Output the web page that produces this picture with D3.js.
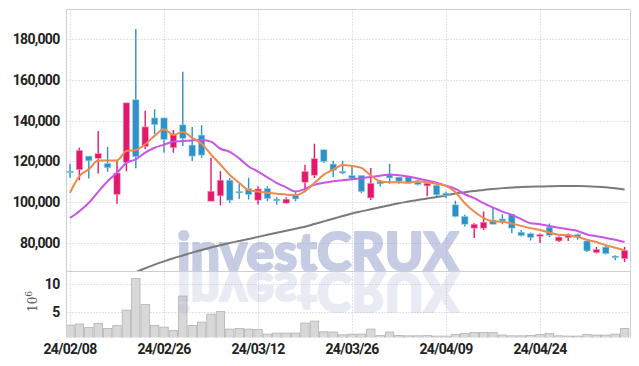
<!DOCTYPE html>
<html><head><meta charset="utf-8">
<script src="https://cdn.jsdelivr.net/npm/d3@7"></script>
<style>html,body{margin:0;padding:0;background:#fff;} svg{display:block;}</style>
</head><body>
<svg id="chart" width="639" height="366"></svg>
<script>
// ---------- DATA ----------
const dates = ["24/02/08","24/02/13","24/02/14","24/02/15","24/02/16","24/02/19","24/02/20","24/02/21","24/02/22","24/02/23",
"24/02/26","24/02/27","24/02/28","24/02/29","24/03/04","24/03/05","24/03/06","24/03/07","24/03/08","24/03/11",
"24/03/12","24/03/13","24/03/14","24/03/15","24/03/18","24/03/19","24/03/20","24/03/21","24/03/22","24/03/25",
"24/03/26","24/03/27","24/03/28","24/03/29","24/04/01","24/04/02","24/04/03","24/04/04","24/04/05","24/04/08",
"24/04/09","24/04/11","24/04/12","24/04/15","24/04/16","24/04/17","24/04/18","24/04/19","24/04/22","24/04/23",
"24/04/24","24/04/25","24/04/26","24/04/29","24/04/30","24/05/02","24/05/03","24/05/07","24/05/08","24/05/09"];
const opens  = [115200,115900,122600,121500,119000,103800,119500,150200,127200,141300,
141300,126700,137900,128000,132900,100500,103100,110800,105300,106700,
101000,106700,101500,99500,103300,109800,113200,125700,118700,115100,
113100,113100,102100,110300,113400,112300,112600,109800,108000,108300,
104400,98700,93000,87300,87300,91300,91800,94100,85300,84600,
83300,87800,81000,82600,84100,81000,75300,78000,73600,72300];
const highs  = [118900,126700,122600,134900,127000,120500,148700,184900,144800,145600,
141300,135400,163900,136900,137700,121800,115200,112000,109200,112000,
107800,107800,102400,102400,104900,118400,128600,125700,120300,120300,
117200,113100,116800,110900,118800,112300,112900,110900,109300,108700,
105200,100700,93800,89700,95400,97100,94100,94100,86400,85100,
84600,89500,83300,84600,84600,81300,78000,78900,74000,78000];
const lows   = [112000,110700,111600,114100,114900,99300,115200,116600,125900,133300,
124300,124300,127500,120200,121800,100500,98500,99700,101600,101300,
98900,100500,98900,99500,100500,104900,111900,119200,112400,113800,
110600,104400,101100,107700,109000,109000,109500,108200,102900,102900,
102000,92600,88100,82400,86400,89200,89200,84800,83200,81200,
80000,82900,80500,81000,81600,75600,74800,74400,71500,70700];
const closes = [114600,125400,120300,123900,116900,114300,148700,122300,136900,138000,
130700,133300,131300,122600,123100,105400,110800,101000,104600,103800,
106500,101800,100700,101500,101600,115100,121300,120000,115600,114300,
111800,105200,109300,109000,111900,110300,109800,108700,109300,103600,
103300,93000,89200,89200,90200,89200,90800,87300,83700,82700,
84100,83800,82900,84100,82900,76100,76900,74800,72800,76400];
// volume, in millions of shares
const volumes = [2.55,2.74,2.13,2.86,1.95,2.49,5.29,11.07,6.33,2.49,
2.19,1.58,7.85,2.49,3.10,4.56,5.05,1.82,1.95,1.82,
1.77,0.91,1.09,1.09,1.09,2.92,3.28,1.33,1.30,0.78,
0.91,0.91,1.82,0.67,1.28,0.67,0.60,0.60,0.67,0.55,
0.55,0.85,1.03,1.22,1.22,1.22,0.73,0.60,0.60,0.67,
0.85,1.03,0.60,0.55,0.55,0.85,0.73,0.73,0.91,1.95];
// moving averages (thousands of won)
const ma5 = [104.6,112.8,116.1,120.5,120.5,120.5,125.1,125.6,128.4,132.5,
135.7,133.0,134.4,131.6,128.7,123.4,118.5,113.3,109.5,105.9,
105.2,104.6,104.2,103.7,103.4,105.4,109.4,113.5,115.9,118.2,
117.8,116.8,113.1,110.3,109.8,109.8,109.5,110.3,109.8,109.0,
108.0,104.9,99.5,95.4,92.2,90.7,90.4,89.5,88.4,87.3,
86.4,85.1,84.1,83.8,82.9,81.6,80.5,78.9,77.7,76.4];
const ma20 = [92.3,95.6,99.7,105.1,110.3,114.4,119.3,121.0,124.3,126.7,
128.2,129.7,130.0,130.3,130.5,129.7,126.2,124.7,121.5,117.5,
115.0,112.2,109.4,107.3,105.2,106.5,108.5,109.5,110.3,110.8,
111.3,111.8,112.3,113.0,113.6,113.2,112.6,111.6,110.6,109.6,
108.1,106.5,103.9,102.0,99.5,97.4,95.4,93.8,91.7,89.7,
89.2,88.3,87.5,86.7,85.9,84.2,83.3,82.5,81.6,80.5];
const ma120 = [null,null,null,null,null,null,null,65.7,67.6,69.4,
71.0,72.5,73.9,75.3,76.6,77.8,78.9,80.0,81.0,82.0,
83.0,84.0,85.0,86.0,87.0,88.0,89.3,90.6,91.9,93.2,
94.5,95.5,96.5,97.5,98.5,99.5,100.3,101.1,101.8,102.5,
103.3,104.3,104.9,105.5,106.0,106.5,106.9,107.2,107.5,107.6,
107.7,107.8,107.9,107.9,107.9,107.8,107.6,107.3,106.8,106.2];
const priceTicks = [80000,100000,120000,140000,160000,180000];
const volumeTicks = [5,10];
const dateTickLabels = ["24/02/08","24/02/26","24/03/12","24/03/26","24/04/09","24/04/24"];

// ---------- LAYOUT ----------
const L = 66.5, R = 630.5, T = 9.5, MB = 271.5, VB = 337.5;
const svg = d3.select("#chart");
const UP = "#e2186c", DOWN = "#2b93c5";
const GRID = "#c3c7dc";

const x = d3.scaleBand().domain(d3.range(dates.length)).range([65.3, 629.3]).padding(0);
const cx = i => x(i) + x.bandwidth() / 2;
const y = d3.scaleLinear().domain([66030, 194460]).range([MB, T]);
const yv = d3.scaleLinear().domain([0.29, 12.33]).range([VB, MB]);

const defs = svg.append("defs");
defs.append("clipPath").attr("id","clipMain").append("rect").attr("x",L).attr("y",T).attr("width",R-L).attr("height",MB-T);
defs.append("clipPath").attr("id","clipVol").append("rect").attr("x",L).attr("y",MB).attr("width",R-L).attr("height",VB-MB);

// grid
const tickIdx = dateTickLabels.map(l => dates.indexOf(l));
const grid = svg.append("g");
grid.selectAll("line.h").data(priceTicks).join("line")
  .attr("x1",L).attr("x2",R).attr("y1",d=>Math.round(y(d))+0.5).attr("y2",d=>Math.round(y(d))+0.5)
  .attr("stroke",GRID).attr("stroke-dasharray","1,2");
grid.selectAll("line.hv").data(volumeTicks).join("line")
  .attr("x1",L).attr("x2",R).attr("y1",d=>Math.round(yv(d))+0.5).attr("y2",d=>Math.round(yv(d))+0.5)
  .attr("stroke",GRID).attr("stroke-dasharray","1,2");
grid.selectAll("line.v").data(tickIdx).join("line")
  .attr("x1",d=>Math.round(cx(d))+0.5).attr("x2",d=>Math.round(cx(d))+0.5).attr("y1",T).attr("y2",VB)
  .attr("stroke",GRID).attr("stroke-dasharray","1,2");

// volume bars
svg.append("g").attr("clip-path","url(#clipVol)").selectAll("rect").data(volumes).join("rect")
  .attr("x",(d,i)=>x(i)+0.5).attr("width",x.bandwidth()-1)
  .attr("y",d=>yv(d)).attr("height",d=>VB+2-yv(d))
  .attr("fill","#d8d8d8").attr("stroke","#b3b3b3").attr("stroke-width",0.8);

// watermark (with mirrored reflection)
const wm = svg.append("g").attr("pointer-events","none");
const wmFont = "Lato, Inter, 'Liberation Sans', sans-serif";
wm.append("text").attr("x",177).attr("y",MB-1).attr("textLength",282).attr("lengthAdjust","spacingAndGlyphs")
  .attr("font-family",wmFont).attr("font-weight",900).attr("font-size",53)
  .attr("fill","#939fcd").attr("stroke","#939fcd").attr("stroke-width",2.2).attr("stroke-linejoin","round")
  .attr("opacity",0.52).text("investCRUX");
wm.append("text").attr("x",177).attr("y",-(MB+1)).attr("transform","scale(1,-1)").attr("textLength",282).attr("lengthAdjust","spacingAndGlyphs")
  .attr("font-family",wmFont).attr("font-weight",900).attr("font-size",53)
  .attr("fill","#939fcd").attr("stroke","#939fcd").attr("stroke-width",2.2).attr("stroke-linejoin","round")
  .attr("opacity",0.2).text("investCRUX");

// moving averages
const main = svg.append("g").attr("clip-path","url(#clipMain)");
const line = d3.line().defined(d=>d.v!=null).x(d=>cx(d.i)).y(d=>y(d.v*1000)).curve(d3.curveMonotoneX);
const mk = arr => arr.map((v,i)=>({i,v}));
main.append("path").attr("d",line(mk(ma120))).attr("fill","none").attr("stroke","#7a7a7a").attr("stroke-width",2);

// candles
const cg = main.append("g");
const bw = 6.4;
dates.forEach((d,i)=>{
  const up = closes[i] > opens[i];
  const col = up ? UP : DOWN;
  cg.append("line").attr("x1",cx(i)).attr("x2",cx(i)).attr("y1",y(highs[i])).attr("y2",y(lows[i]))
    .attr("stroke",col).attr("stroke-width",1.4);
  const top = y(Math.max(opens[i],closes[i])), bot = y(Math.min(opens[i],closes[i]));
  cg.append("rect").attr("x",cx(i)-bw/2).attr("width",bw).attr("y",top).attr("height",Math.max(1.5,bot-top))
    .attr("fill",col).attr("stroke",up?"#f5a3c4":"#9fd0ea").attr("stroke-width",0.6);
});

main.append("path").attr("d",line(mk(ma20))).attr("fill","none").attr("stroke","#c955e6").attr("stroke-width",2);
main.append("path").attr("d",line(mk(ma5))).attr("fill","none").attr("stroke","#ee8a4e").attr("stroke-width",2);

// frame
const fr = svg.append("g").attr("stroke","#cfcfcf").attr("fill","none");
fr.append("line").attr("x1",L).attr("x2",L).attr("y1",T).attr("y2",VB);
fr.append("line").attr("x1",R).attr("x2",R).attr("y1",T).attr("y2",VB);
fr.append("line").attr("x1",L).attr("x2",R).attr("y1",T).attr("y2",T);
fr.append("line").attr("x1",L).attr("x2",R).attr("y1",MB).attr("y2",MB);

// axes
const fontFam = "Roboto, 'Noto Sans', sans-serif";
const ya = svg.append("g").attr("transform",`translate(${L-7},0)`)
  .call(d3.axisLeft(y).tickValues(priceTicks).tickFormat(d3.format(",")).tickSize(0).tickPadding(0));
const yva = svg.append("g").attr("transform",`translate(${L-7},0)`)
  .call(d3.axisLeft(yv).tickValues(volumeTicks).tickFormat(d3.format("d")).tickSize(0).tickPadding(0));
const xa = svg.append("g").attr("transform",`translate(0,${VB+2})`)
  .call(d3.axisBottom(x).tickValues(tickIdx).tickFormat(i=>dates[i]).tickSize(0).tickPadding(5));
[ya,yva,xa].forEach(g=>{
  g.select(".domain").remove();
  g.selectAll("text").attr("font-family",fontFam).attr("font-weight","bold").attr("font-size",14)
    .attr("fill","#222").attr("letter-spacing","-0.7px");
});

// volume unit label
svg.append("text").attr("transform","translate(37,312) rotate(-90)")
  .attr("font-family","'DejaVu Serif', serif").attr("font-size",12).attr("fill","#555")
  .text("10").append("tspan").attr("dy",-5).attr("font-size",9).text("6");
</script>
</body></html>
